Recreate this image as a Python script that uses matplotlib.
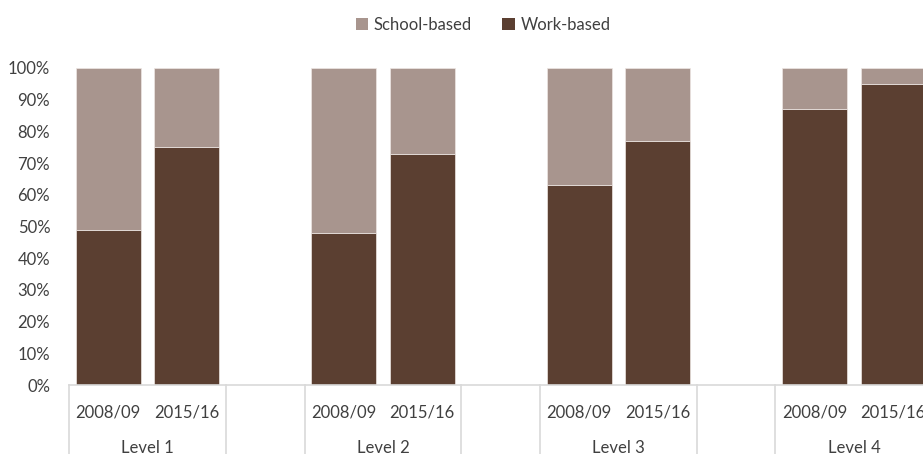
import matplotlib
matplotlib.use("Agg")
import matplotlib.pyplot as plt
from matplotlib.patches import Patch
from matplotlib.transforms import blended_transform_factory

plt.rcParams['font.family'] = ['Lato', 'DejaVu Sans']

levels = ["Level 1", "Level 2", "Level 3", "Level 4"]
years = ["2008/09", "2015/16"]
work_based = [[49, 75], [48, 73], [63, 77], [87, 95]]
school_based = [[100 - w for w in pair] for pair in work_based]

c_school = "#A8958E"
c_work = "#5B3F31"
c_text = "#404040"
c_axis = "#D9D9D9"

W, H = 923, 454
fig = plt.figure(figsize=(W / 100, H / 100), dpi=100)

left_px, base_px, top_px, cat_px = 69, 385, 68, 78.5
ax = fig.add_axes([left_px / W, (H - base_px) / H, 1 - left_px / W, (base_px - top_px) / H])

# each level uses three category slots: two years plus an empty spacer slot
xs, ws, ss, tick_labels = [], [], [], []
for g, lvl in enumerate(levels):
    for j, yr in enumerate(years):
        xs.append(3 * g + j)
        ws.append(work_based[g][j])
        ss.append(school_based[g][j])
        tick_labels.append(yr)

bw = 0.83
ax.bar(xs, ws, width=bw, color=c_work, edgecolor="#EDE6E3", linewidth=0.5)
ax.bar(xs, ss, bottom=ws, width=bw, color=c_school, edgecolor="#EDE6E3", linewidth=0.5)

ax.set_xlim(-0.5, -0.5 + (W - left_px) / cat_px)
ax.set_ylim(0, 100)
ax.set_yticks(range(0, 101, 10))
ax.set_yticklabels([f"{v}%" for v in range(0, 101, 10)], fontsize=12, color=c_text)
ax.tick_params(axis="y", length=0, pad=13.5)

ax.set_xticks([])
for s in ["top", "right", "left"]:
    ax.spines[s].set_visible(False)
ax.spines["bottom"].set_color(c_axis)
ax.spines["bottom"].set_linewidth(1.2)

trans = blended_transform_factory(ax.transData, ax.transAxes)
depth = (H - base_px) / (base_px - top_px)

# year labels and level labels
for x, lab in zip(xs, tick_labels):
    ax.text(x, -27 / (base_px - top_px), lab, transform=trans, ha="center", va="center",
            fontsize=12, color=c_text, clip_on=False)
for g, lvl in enumerate(levels):
    ax.text(3 * g + 0.5, -63 / (base_px - top_px), lvl, transform=trans, ha="center",
            va="center", fontsize=12, color=c_text, clip_on=False)

# group divider lines below the axis
for g in range(len(levels)):
    for xd in (3 * g - 0.5, 3 * g + 1.5):
        ax.plot([xd, xd], [0, -depth], transform=trans, color=c_axis, lw=1.2, clip_on=False)
ax.plot([3 * len(levels) - 0.5] * 2, [0, -depth], transform=trans, color=c_axis, lw=1.2, clip_on=False)

handles = [Patch(facecolor=c_school, edgecolor="none", label="School-based"),
           Patch(facecolor=c_work, edgecolor="none", label="Work-based")]
fig.legend(handles=handles, loc="center", bbox_to_anchor=(483 / W, 1 - 25 / H), ncol=2,
           frameon=False, fontsize=12, handlelength=0.75, handleheight=0.75,
           handletextpad=0.35, columnspacing=1.8, labelcolor=c_text)

fig.savefig("out.png", dpi=100)
